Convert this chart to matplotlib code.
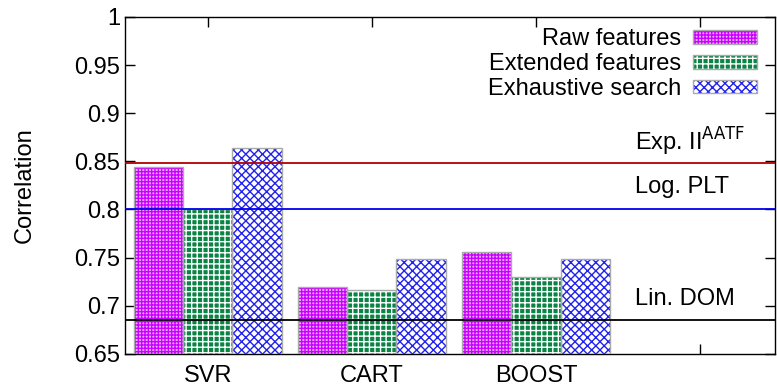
import numpy as np
import matplotlib.pyplot as plt
from matplotlib.patches import Patch

plt.rcParams['font.family'] = ['Liberation Sans', 'DejaVu Sans']
plt.rcParams['hatch.linewidth'] = 1.0

# data
models = ["SVR", "CART", "BOOST", ""]
raw = [0.844, 0.720, 0.756]
extended = [0.800, 0.716, 0.730]
exhaustive = [0.864, 0.749, 0.749]
series_names = ["Raw features", "Extended features", "Exhaustive search"]

ref_names = ["Exp. II$^{\\mathrm{AATF}}$", "Log. PLT", "Lin. DOM"]
ref_values = [0.848, 0.801, 0.685]
ref_colors = ["#b00000", "#0000ee", "#000000"]

# style: (face, hatch colour, hatch)
styles = [("#eab0ff", "#cc00ff", "+++++"),
          ("#0a8444", "#ffffff", "+++"),
          ("#ffffff", "#2222ee", "xxxx")]

fig = plt.figure(figsize=(7.77, 3.92), dpi=100)
ax = fig.add_axes([0.161, 0.097, 0.837, 0.86])

x = np.arange(len(raw))
w = 0.3
for i, vals in enumerate([raw, extended, exhaustive]):
    face, hcol, hatch = styles[i]
    pos = x + (i - 1) * w
    ax.bar(pos, np.array(vals) - 0.65, w, bottom=0.65, color=face,
           edgecolor=hcol, linewidth=0, hatch=hatch, zorder=2)
    ax.bar(pos, np.array(vals) - 0.65, w, bottom=0.65, fill=False,
           edgecolor="#aaaaaa", linewidth=1.0, zorder=3)

for name, v, c in zip(ref_names, ref_values, ref_colors):
    ax.axhline(v, color=c, linewidth=1.3, zorder=4)
    ax.text(2.606, v + 0.022, name, fontsize=17, va="center", ha="left")

handles = []
for face, hcol, hatch in styles:
    fillp = Patch(facecolor=face, edgecolor=hcol, hatch=hatch, linewidth=0)
    edgep = Patch(fill=False, edgecolor="#aaaaaa", linewidth=1.0)
    handles.append((fillp, edgep))
leg = ax.legend(handles, series_names, loc="upper right", bbox_to_anchor=(0.997, 1.015),
                frameon=False, markerfirst=False, fontsize=17, handlelength=2.7,
                handleheight=0.5, labelspacing=0.12, handletextpad=0.5,
                borderaxespad=0.3)

ax.set_xlim(-0.504, 3.46)
ax.set_ylim(0.65, 1.0)
ax.set_xticks(np.arange(len(models)))
ax.set_xticklabels(models)
ax.set_yticks([0.65, 0.7, 0.75, 0.8, 0.85, 0.9, 0.95, 1.0])
ax.set_yticklabels(["0.65", "0.7", "0.75", "0.8", "0.85", "0.9", "0.95", "1"])
ax.tick_params(direction="in", length=7, top=True, right=True, labelsize=17, width=1)
ax.tick_params(axis="x", pad=8)
ax.set_ylabel("Correlation", fontsize=17, labelpad=28)
for s in ax.spines.values():
    s.set_linewidth(1.0)

plt.savefig("out.png", dpi=100)
